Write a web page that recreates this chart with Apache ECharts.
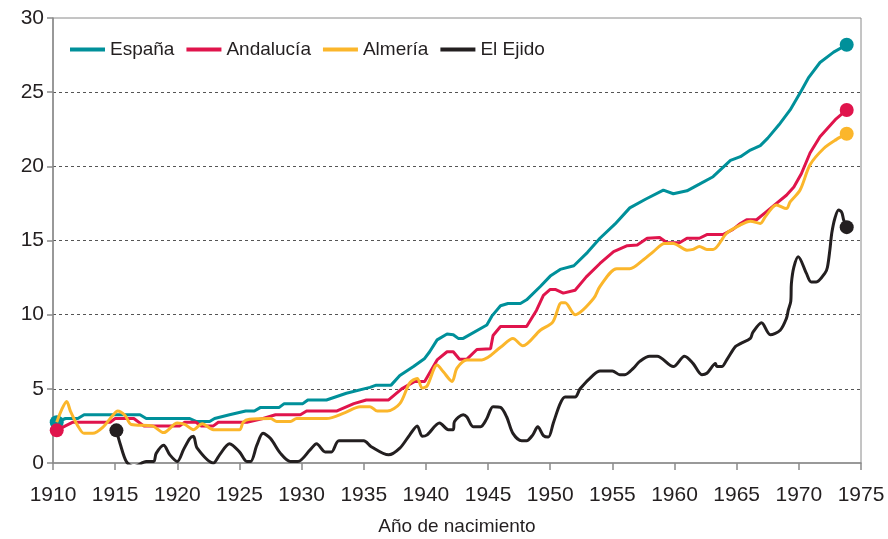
<!DOCTYPE html>
<html>
<head>
<meta charset="utf-8">
<script src="https://cdn.jsdelivr.net/npm/echarts@6/dist/echarts.min.js"></script>
<style>
  html, body { margin: 0; padding: 0; background: #fff; }
  #chart { width: 888px; height: 539px; }
</style>
</head>
<body>
<div id="chart"></div>
<script>
// datos (año, valor)
var espanaYears = [1910.3,1911,1912,1912.5,1917,1917.5,1921,1921.5,1922.6,1923,1924.2,1925.5,1926.2,1926.7,1928.2,1928.6,1930.1,1930.5,1932,1933.6,1935.5,1936,1937.2,1937.9,1939,1939.9,1940.3,1940.9,1941.7,1942.2,1942.6,1943,1944.9,1945.3,1946,1946.6,1947.6,1948.1,1949.2,1950,1950.8,1951.9,1953,1954,1955.2,1956.4,1957.7,1959.1,1959.9,1961,1962,1963.1,1964.5,1965.3,1966.1,1966.9,1967.5,1968.4,1969.3,1970.2,1970.8,1971.7,1972.8,1973.85];
var espanaVals = [2.75,3.0,3.0,3.25,3.25,3.0,3.0,2.8,2.8,3.0,3.25,3.5,3.5,3.75,3.75,4.0,4.0,4.25,4.25,4.7,5.1,5.25,5.25,5.9,6.5,7.05,7.5,8.3,8.7,8.65,8.4,8.4,9.3,9.9,10.6,10.75,10.75,11.0,11.9,12.6,13.05,13.3,14.2,15.15,16.1,17.2,17.8,18.4,18.15,18.35,18.8,19.3,20.4,20.65,21.1,21.4,21.9,22.8,23.8,25.1,26.0,27.0,27.7,28.2];

var andaluciaYears = [1910.3,1911,1911.6,1914.6,1915,1916.5,1917.3,1920.2,1920.6,1921.5,1921.9,1922.9,1923.3,1925.6,1926.9,1927.9,1929.9,1930.4,1932.8,1934.2,1935.2,1937,1938.05,1939.1,1939.9,1940.9,1941.7,1942.2,1942.7,1943.3,1944.1,1945.2,1945.4,1946,1948.1,1948.9,1949.45,1950,1950.4,1951.05,1952,1952.9,1954,1955.1,1956.2,1957,1957.8,1958.8,1959.4,1960.4,1961,1962,1962.6,1963.9,1964.7,1965.3,1965.8,1966.6,1967.4,1968.2,1969,1969.6,1970.2,1970.9,1971.7,1973,1973.85];
var andaluciaVals = [2.2,2.5,2.75,2.75,3.0,3.0,2.5,2.5,2.75,2.75,2.5,2.5,2.75,2.75,3.0,3.25,3.25,3.5,3.5,4.0,4.25,4.25,5.0,5.5,5.5,6.95,7.5,7.5,7.0,7.0,7.65,7.7,8.6,9.2,9.2,10.3,11.3,11.7,11.7,11.45,11.65,12.55,13.45,14.25,14.65,14.7,15.15,15.2,14.85,14.85,15.15,15.15,15.4,15.4,15.75,16.15,16.4,16.4,16.95,17.5,18.05,18.6,19.5,20.9,22.0,23.2,23.8];

var almeriaYears = [1910.3,1910.7,1911.1,1911.4,1912,1912.5,1913.2,1914,1914.8,1915.2,1915.8,1916.3,1918,1918.9,1920,1920.6,1921.3,1922,1922.9,1925,1925.3,1925.8,1927.5,1928,1929.1,1929.6,1932,1933.5,1934.7,1935.5,1936.1,1936.9,1937.9,1938.7,1939.3,1939.7,1940.1,1940.9,1941.4,1942.1,1942.5,1943.3,1944.5,1946,1947,1947.8,1949.2,1950.2,1950.9,1951.2,1952,1953.5,1954,1955.35,1956.4,1957.5,1958.3,1959.2,1959.9,1961,1961.5,1962,1962.6,1963.1,1964.2,1965.3,1966.1,1966.9,1967.3,1968.2,1969,1969.3,1970.1,1970.9,1972,1973,1973.85];
var almeriaVals = [2.75,3.6,4.15,3.5,2.5,2.0,2.0,2.4,3.2,3.5,3.2,2.6,2.5,2.05,2.7,2.6,2.25,2.65,2.25,2.25,2.75,2.95,3.0,2.8,2.8,3.0,3.0,3.4,3.8,3.8,3.5,3.5,4.0,5.4,5.7,5.05,5.2,6.6,6.15,5.5,6.4,6.95,6.95,7.8,8.4,7.9,8.95,9.5,10.8,10.8,10.0,11.1,11.9,13.1,13.1,13.7,14.25,14.8,14.8,14.35,14.4,14.6,14.4,14.4,15.5,16.05,16.3,16.15,16.6,17.4,17.15,17.6,18.4,20.1,21.2,21.8,22.2];

var ejidoYears = [1915.1,1915.4,1915.9,1916.5,1917.5,1918.1,1918.3,1918.9,1919.4,1920,1920.5,1921,1921.3,1921.6,1922.9,1923.4,1924.2,1925,1925.6,1925.9,1926.4,1926.9,1927.5,1928.3,1929.1,1929.7,1930.7,1931.2,1931.9,1932.4,1933,1935,1935.6,1937,1937.9,1938.7,1939.3,1939.7,1940.1,1941.1,1941.8,1942.2,1942.3,1943,1943.3,1943.8,1944.4,1944.9,1945.4,1946,1946.5,1947,1947.7,1948.1,1948.6,1949,1949.45,1949.85,1950.25,1950.8,1951.2,1952,1952.4,1953.5,1954,1955,1955.6,1956,1956.7,1957.2,1958,1958.6,1959.9,1960.8,1961.5,1962.2,1962.6,1963.3,1963.4,1963.8,1964.2,1964.9,1965.3,1966.1,1966.3,1967,1967.7,1968.5,1969,1969.15,1969.35,1969.4,1969.6,1969.95,1970.6,1971,1971.4,1972.1,1972.3,1972.5,1972.65,1972.9,1973.2,1973.45,1973.6,1973.85];
var ejidoVals = [2.2,1.3,0.1,-0.25,0.1,0.1,0.65,1.2,0.55,0.1,0.9,1.65,1.8,1.0,0.0,0.55,1.3,0.75,0.1,0.1,1.2,2.0,1.65,0.65,0.1,0.1,0.9,1.3,0.75,0.75,1.5,1.5,1.1,0.55,1.0,1.9,2.5,1.8,1.9,2.7,2.25,2.25,2.8,3.25,3.1,2.45,2.45,3.0,3.8,3.75,3.1,2.0,1.5,1.5,1.9,2.45,1.85,1.75,2.7,4.0,4.45,4.45,5.0,5.95,6.2,6.2,5.95,5.95,6.4,6.85,7.2,7.2,6.5,7.2,6.7,5.95,6.05,6.7,6.5,6.5,6.95,7.85,8.05,8.4,8.8,9.45,8.65,8.95,9.75,10.3,10.9,12.1,13.2,13.9,12.8,12.2,12.2,12.8,13.2,14.4,15.5,16.5,17.05,16.9,16.4,15.9];

var seriesNames = ["España", "Andalucía", "Almería", "El Ejido"];
var seriesColors = ["#00909a", "#e0144c", "#fbb62b", "#231f20"];
var xTicks = [1910, 1975, 5];
var yTicks = [0, 30, 5];

// puntos: circulo en los extremos marcados
function toData(years, vals, dotStart, dotEnd) {
  var out = [];
  for (var i = 0; i < years.length; i++) {
    var item = { value: [years[i], vals[i]] };
    if ((i === 0 && dotStart) || (i === years.length - 1 && dotEnd)) {
      item.symbol = "circle";
      item.symbolSize = 14;
    }
    out.push(item);
  }
  return out;
}

function makeSeries(idx, data, smooth) {
  return {
    name: seriesNames[idx],
    type: "line",
    data: data,
    symbol: "none",
    showSymbol: true,
    smooth: smooth,
    color: seriesColors[idx],
    lineStyle: { width: 3, color: seriesColors[idx] },
    itemStyle: { color: seriesColors[idx] },
    emphasis: { disabled: true },
    z: 2 + idx
  };
}

var myChart = echarts.init(document.getElementById("chart"));
var font = "'Liberation Sans', Arial, sans-serif";

var option = {
  backgroundColor: "#fff",
  animation: false,
  textStyle: { fontFamily: font },
  grid: {
    left: 53,
    right: 27,
    top: 18,
    bottom: 76,
    outerBoundsMode: "none",
    containLabel: false,
    show: true,
    borderColor: "#8a8a8a",
    borderWidth: 1
  },
  legend: {
    left: 65,
    top: 35,
    icon: "rect",
    itemWidth: 35,
    itemHeight: 4,
    itemGap: 12,
    textStyle: { fontSize: 19, color: "#231f20", fontFamily: font },
    data: seriesNames
  },
  xAxis: {
    type: "value",
    min: xTicks[0],
    max: xTicks[1],
    interval: xTicks[2],
    name: "Año de nacimiento",
    nameLocation: "middle",
    nameGap: 54,
    nameTextStyle: { fontSize: 19, color: "#231f20", fontFamily: font },
    axisLine: { show: true, lineStyle: { color: "#8a8a8a", width: 1.5 } },
    axisTick: { show: true, length: 7, lineStyle: { color: "#8a8a8a", width: 1.5 } },
    axisLabel: {
      fontSize: 21,
      color: "#231f20",
      margin: 22,
      formatter: function (v) { return String(v); }
    },
    splitLine: { show: false }
  },
  yAxis: {
    type: "value",
    min: yTicks[0],
    max: yTicks[1],
    interval: yTicks[2],
    axisLine: { show: true, lineStyle: { color: "#8a8a8a", width: 1.5 } },
    axisTick: { show: true, length: 6, lineStyle: { color: "#8a8a8a", width: 1.5 } },
    axisLabel: { fontSize: 21, color: "#231f20", margin: 9 },
    splitLine: {
      show: true,
      showMinLine: false,
      showMaxLine: false,
      lineStyle: { color: "#555", type: [3, 3], width: 1 }
    }
  },
  series: [
    makeSeries(0, toData(espanaYears, espanaVals, true, true), false),
    makeSeries(1, toData(andaluciaYears, andaluciaVals, true, true), false),
    makeSeries(2, toData(almeriaYears, almeriaVals, false, true), 0.3),
    makeSeries(3, toData(ejidoYears, ejidoVals, true, true), 0.3)
  ]
};

myChart.setOption(option);
</script>
</body>
</html>
